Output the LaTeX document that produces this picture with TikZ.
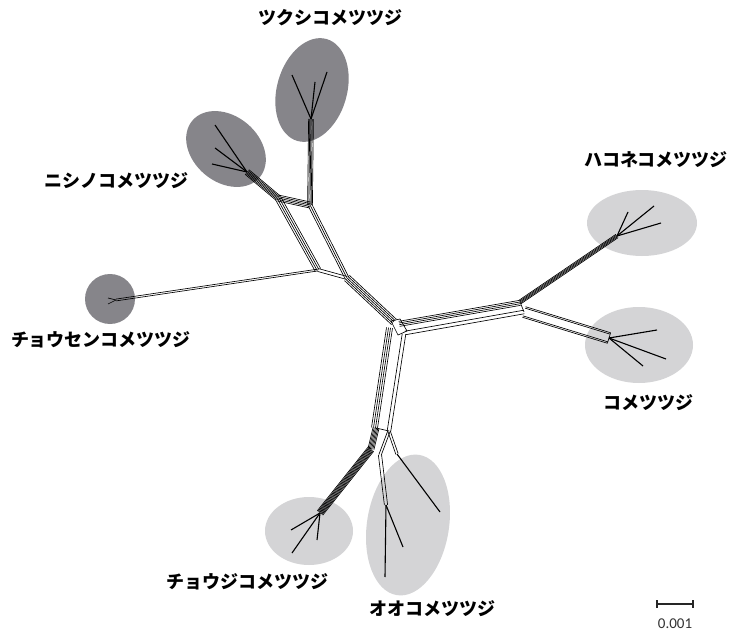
\documentclass[tikz,border=0pt]{standalone}
\usepackage{fontspec}
\newfontfamily\jp{Noto Sans CJK JP}
\newfontfamily\numfont{Carlito}
\usetikzlibrary{calc,shapes.geometric}
\definecolor{darkell}{RGB}{134,133,138}
\definecolor{lightell}{RGB}{212,212,214}
\tikzset{
  net/.style={black, line width=0.65pt},
  tipline/.style={black, line width=1.1pt},
  dgrp/.style={ellipse, fill=darkell, draw=none, inner sep=0pt},
  lgrp/.style={ellipse, fill=lightell, draw=none, inner sep=0pt},
  lab/.style={font=\jp\bfseries\fontsize{18}{20}\selectfont, inner sep=0pt},
}
\newcommand\bandlines[3]{\foreach \k in {#3}{\draw[net] ($(#1)!\k pt!90:(#2)$) -- ($(#2)!\k pt!-90:(#1)$);}}
\begin{document}
\begin{tikzpicture}[x=1pt,y=-1pt]
\fill[white] (0,0) rectangle (740,634);
\useasboundingbox (0,0) rectangle (740,634);
% group ellipses
\node[dgrp, minimum width=70pt, minimum height=106pt, rotate=-16] (eTs) at (312,90) {};
\node[dgrp, minimum width=88pt, minimum height=66pt, rotate=-40] (eNi) at (226,149) {};
\node[dgrp, circle, minimum size=50pt] (eCh) at (110,299) {};
\node[lgrp, minimum width=110pt, minimum height=66pt] (eHa) at (642,223) {};
\node[lgrp, minimum width=108pt, minimum height=76pt] (eKo) at (639,345) {};
\node[lgrp, minimum width=88pt, minimum height=68pt] (eCj) at (309,531) {};
\node[lgrp, minimum width=82pt, minimum height=142pt, rotate=-9] (eOo) at (408,525) {};
% network coordinates
\coordinate (CU) at (394,322);
\coordinate (CR) at (399,323);
\coordinate (CRb) at (405,333);
\coordinate (CD) at (391,328);
\coordinate (CDb) at (404,334);
\coordinate (P4) at (347,278);
\coordinate (P3) at (310,205);
\coordinate (P2) at (278,198);
\coordinate (P1) at (318,270);
\coordinate (T0) at (311,119);
\coordinate (N0) at (247,172);
\coordinate (H0) at (116,300);
\coordinate (R1) at (520,302);
\coordinate (R2) at (524,312);
\coordinate (HK0) at (617,236);
\coordinate (K0) at (609,338);
\coordinate (DL) at (376,428);
\coordinate (DR) at (389,431);
\coordinate (B1) at (371,449);
\coordinate (J0) at (320,513);
\coordinate (O1) at (397,454);
\coordinate (Q1) at (380,455);
\coordinate (O2) at (386,505);
% tips
\coordinate (t1) at (292,75); \coordinate (t2) at (315,82); \coordinate (t3) at (327,72);
\coordinate (n1) at (215,125); \coordinate (n2) at (215,148); \coordinate (n3) at (212,164);
\coordinate (c1) at (108,298); \coordinate (c2) at (108,304);
\coordinate (h1) at (628,212); \coordinate (h2) at (654,206); \coordinate (h3) at (661,223);
\coordinate (k1) at (657,330); \coordinate (k2) at (666,359); \coordinate (k3) at (643,366);
\coordinate (j1) at (291,530); \coordinate (j2) at (292,553); \coordinate (j3) at (317,540);
\coordinate (o1) at (440,512); \coordinate (o2) at (385,577); \coordinate (o3) at (403,547);
% bands
\bandlines{CU}{P4}{-3.6,-1.8,0,1.8,3.6}
\bandlines{P4}{P3}{-2,0,2}
\bandlines{P1}{P4}{-1.5,1.5}
\bandlines{P2}{P1}{-3,-1,1,3}
\bandlines{P2}{P3}{-3,-1.5,0,1.5,3}
\bandlines{P3}{T0}{-2.4,-1.2,0,1.2,2.4}
\bandlines{P2}{N0}{-3,-1.8,-0.6,0.6,1.8,3}
\bandlines{P1}{H0}{-0.9,0.9}
\bandlines{CR}{R1}{-3.4,-1.7,0,1.7}
\bandlines{CRb}{R2}{-1.8,1.8}
\bandlines{R1}{HK0}{-2,-1,0,1,2}
\bandlines{R2}{K0}{-5.5,-4,4,5.5}
\bandlines{CD}{DL}{-4.5,-2.5,-0.5,1.5}
\bandlines{CDb}{DR}{-1.8,1.8}
\bandlines{DL}{B1}{-3,-1.8,-0.6,0.6,1.8,3}
\bandlines{B1}{J0}{-3.5,-2.5,-1.5,-0.5,0.5,1.5,2.5,3.5}
\bandlines{DR}{O1}{-1.2,1.2}
\bandlines{DR}{Q1}{-1.2,1.2}
\bandlines{Q1}{O2}{-1.6,1.6}
\draw[net] (391,321) -- (400,319) -- (407,331) -- (398,335) -- cycle;
\draw[net] (R1) -- (R2);
\draw[net] (DL) -- (DR);
\draw[net] ($(K0)!5.5pt!-90:(R2)$) -- ($(K0)!-5.5pt!-90:(R2)$);
% tip lines
\foreach \p in {t1,t2,t3} \draw[tipline] (T0) -- (\p);
\foreach \p in {n1,n2,n3} \draw[tipline] (N0) -- (\p);
\foreach \p in {c1,c2} \draw[net] (H0) -- (\p);
\foreach \p in {h1,h2,h3} \draw[tipline] (HK0) -- (\p);
\foreach \p in {k1,k2,k3} \draw[tipline] (K0) -- (\p);
\foreach \p in {j1,j2,j3} \draw[tipline] (J0) -- (\p);
\draw[tipline] (O1) -- (o1);
\foreach \p in {o2,o3} \draw[tipline] (O2) -- (\p);
% labels
\node[lab] (lTs) at (330,18) {ツクシコメツツジ};
\node[lab] (lNi) at (117,181) {ニシノコメツツジ};
\node[lab] (lCh) at (101,340) {チョウセンコメツツジ};
\node[lab] (lHa) at (656,160) {ハコネコメツツジ};
\node[lab] (lKo) at (648,403) {コメツツジ};
\node[lab] (lCj) at (247,582) {チョウジコメツツジ};
\node[lab] (lOo) at (432,609) {オオコメツツジ};
% scale bar
\coordinate (sbL) at (657,604); \coordinate (sbR) at (693,604);
\draw[line width=2pt, color=black!85] (sbL) -- (sbR);
\draw[line width=1.2pt, color=black!85] ($(sbL)+(0,-4)$) -- ($(sbL)+(0,4)$) ($(sbR)+(0,-4)$) -- ($(sbR)+(0,4)$);
\node[font=\numfont\fontsize{15}{17}\selectfont, inner sep=0pt, text=black!80] (sbT) at (675,624) {0.001};
\end{tikzpicture}
\end{document}
